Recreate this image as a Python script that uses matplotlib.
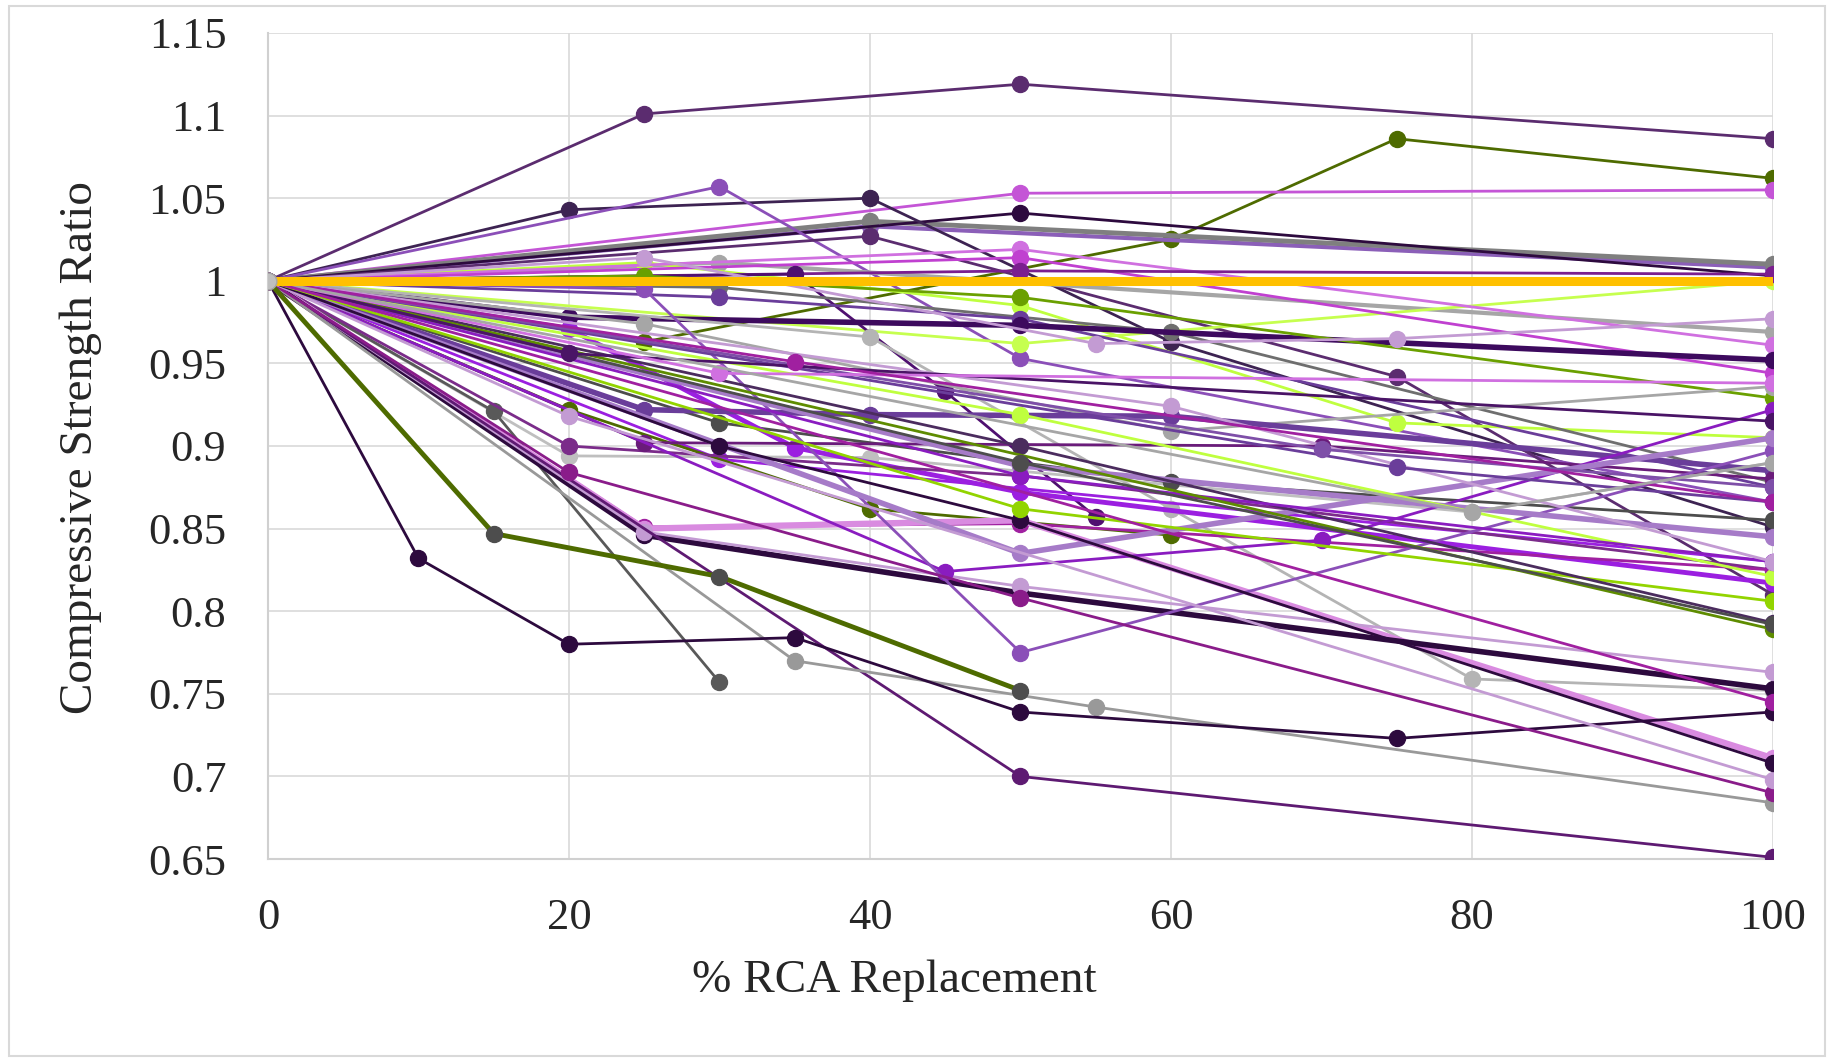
import matplotlib
matplotlib.use("Agg")
import matplotlib.pyplot as plt
from matplotlib.patches import Rectangle
from matplotlib.ticker import FuncFormatter, MultipleLocator

# each series: (x values, ratio values, colour, line width)
series = [
    ([0, 25, 50, 100], [1, 1.101, 1.119, 1.086], "#5B2C6F", 2),
    ([0, 25, 60, 75, 100], [1, 0.963, 1.025, 1.086, 1.062], "#4E6B00", 2),
    ([0, 50, 100], [1, 1.053, 1.055], "#C455D6", 2),
    ([0, 40, 100], [1, 1.033, 1.008], "#8B5FB8", 3),
    ([0, 40, 100], [1, 1.036, 1.010], "#7F7F7F", 3.5),
    ([0, 50, 100], [1, 1.041, 1.003], "#2D0A3E", 2),
    ([0, 20, 40, 60, 100], [1, 1.043, 1.050, 0.963, 0.851], "#3D2352", 2),
    ([0, 30, 50, 100], [1, 1.057, 0.953, 0.866], "#8B4FB8", 2),
    ([0, 40, 75, 100], [1, 1.027, 0.942, 0.810], "#5B2C6F", 2),
    ([0, 30, 100], [1, 1.011, 0.969], "#A6A6A6", 3),
    ([0, 25, 50, 75, 100], [1, 1.011, 0.985, 0.914, 0.905], "#BFFF3F", 2),
    ([0, 50, 100], [1, 0.962, 1.0], "#C6FF4F", 2),
    ([0, 50, 100], [1, 1.019, 0.961], "#D070E0", 2),
    ([0, 50, 100], [1, 1.014, 0.944], "#C040D0", 2),
    ([0, 50, 100], [1, 1.006, 1.004], "#7B1F8F", 2),
    ([0, 35, 45, 55], [1, 1.004, 0.933, 0.857], "#4F1070", 2),
    ([0, 30, 60, 100], [1, 0.996, 0.969, 0.878], "#6E6E6E", 2),
    ([0, 30, 50, 100], [1, 0.990, 0.977, 0.875], "#6A3D9A", 2),
    ([0, 20, 50, 100], [1, 0.978, 0.973, 0.952], "#3D0A5E", 4),
    ([0, 25, 50, 100], [1, 1.003, 0.990, 0.929], "#6AA000", 2),
    ([0, 25, 55, 75, 100], [1, 1.014, 0.962, 0.965, 0.977], "#C39BD3", 2),
    ([0, 40, 60, 80, 100], [1, 0.966, 0.862, 0.759, 0.752], "#B4B4B4", 2),
    ([0, 20, 40, 80, 100], [1, 0.894, 0.893, 0.860, 0.890], "#BFBFBF", 2),
    ([0, 25, 60, 100], [1, 0.974, 0.909, 0.936], "#A6A6A6", 2),
    ([0, 15, 30], [1, 0.921, 0.757], "#595959", 2),
    ([0, 30, 60, 100], [1, 0.914, 0.878, 0.855], "#4D4D4D", 2),
    ([0, 20, 35, 50, 100], [1, 0.971, 0.899, 0.872, 0.817], "#9B1FE0", 3.5),
    ([0, 30, 100], [1, 0.892, 0.830], "#9B1FE0", 2),
    ([0, 20, 40, 60], [1, 0.922, 0.862, 0.846], "#4E6B00", 2),
    ([0, 25, 40, 60, 100], [1, 0.922, 0.919, 0.918, 0.885], "#6A3D9A", 4),
    ([0, 20, 50, 100], [1, 0.900, 0.882, 0.825], "#7B2C8A", 2),
    ([0, 25, 70, 100], [1, 0.902, 0.900, 0.880], "#6A1C7A", 2),
    ([0, 25, 50, 100], [1, 0.851, 0.853, 0.825], "#A020A0", 2),
    ([0, 25, 50, 100], [1, 0.850, 0.855, 0.711], "#D98BE0", 4.5),
    ([0, 25, 50, 100], [1, 0.846, 0.811, 0.753], "#2D0A3E", 4),
    ([0, 25, 50, 100], [1, 0.848, 0.815, 0.763], "#C39BD3", 2),
    ([0, 45, 70, 100], [1, 0.824, 0.843, 0.922], "#8A1CC0", 2),
    ([0, 25, 50, 100], [1, 0.995, 0.775, 0.897], "#8B4FB8", 2),
    ([0, 50, 100], [1, 0.835, 0.905], "#A67BC8", 4),
    ([0, 50, 100], [1, 0.888, 0.845], "#A67BC8", 4),
    ([0, 50, 100], [1, 0.700, 0.651], "#5E1A72", 2),
    ([0, 35, 55, 100], [1, 0.770, 0.742, 0.684], "#999999", 2),
    ([0, 10, 20, 35, 50, 75, 100], [1, 0.832, 0.780, 0.784, 0.739, 0.723, 0.739], "#2D0A3E", 2),
    ([0, 20, 50, 100], [1, 0.884, 0.808, 0.690], "#8A1C8A", 2),
    ([0, 20, 100], [1, 0.918, 0.698], "#C39BD3", 2),
    ([0, 30, 50, 100], [1, 0.900, 0.855, 0.708], "#2D0A3E", 2),
    ([0, 50, 100], [1, 0.862, 0.806], "#92D400", 2),
    ([0, 50, 100], [1, 0.919, 0.821], "#BFFF3F", 2),
    ([0, 50, 100], [1, 0.900, 0.793], "#4B2C5E", 2),
    ([0, 50, 100], [1, 0.882, 0.830], "#8A1CC0", 2),
    ([0, 60, 100], [1, 0.924, 0.830], "#C39BD3", 2),
    ([0, 75, 100], [1, 0.887, 0.866], "#6A3D9A", 2),
    ([0, 70, 100], [1, 0.898, 0.875], "#7E4FA8", 2),
    ([0, 100], [1, 0.789], "#5E8C00", 2),
    ([0, 50, 100], [1, 0.890, 0.792], "#4D4D4D", 2),
    ([0, 20, 100], [1, 0.956, 0.915], "#4A1466", 2),
    ([0, 30, 100], [1, 0.944, 0.938], "#D070E0", 2),
    ([0, 35, 100], [1, 0.951, 0.866], "#A020A0", 2),
    ([0, 80, 100], [1, 0.860, 0.890], "#A6A6A6", 2),
    ([0, 100], [1, 0.745], "#A020A0", 2),
]

# olive line with dark grey markers
olive_x = [0, 15, 30, 50]
olive_y = [1, 0.847, 0.821, 0.752]

# reference line at ratio 1
ref_x = [0, 100]
ref_y = [1, 1]

x_ticks = [0, 20, 40, 60, 80, 100]

plt.rcParams["font.family"] = ["Liberation Serif", "DejaVu Serif"]

fig = plt.figure(figsize=(18.29, 10.60), dpi=100)
ax = fig.add_axes([0.1465, 0.1896, 0.8229, 0.7793])

for xs, ys, col, lw in series:
    ax.plot(xs, ys, color=col, lw=lw, marker="o", ms=11.5, mec=col, mfc=col, zorder=3)

ax.plot(olive_x, olive_y, color="#4E6B00", lw=3.5, marker="o", ms=11.5,
        mfc="#4D4D4D", mec="#4D4D4D", zorder=3)

ax.plot(ref_x, ref_y, color="#FFC000", lw=6.5, zorder=5, marker="o", markevery=[0],
        ms=12, mfc="#BFBFBF", mec="#A6A6A6")

ax.set_xlim(0, 100)
ax.set_ylim(0.65, 1.15)
ax.set_xticks(x_ticks)
ax.yaxis.set_major_locator(MultipleLocator(0.05))
ax.yaxis.set_major_formatter(FuncFormatter(lambda v, p: f"{round(v, 2):g}"))
ax.grid(True, color="#D9D9D9", lw=1.2, zorder=0)
ax.set_axisbelow(True)
ax.tick_params(length=0, labelsize=32, colors="#262626")
ax.tick_params(axis="y", pad=30)
ax.tick_params(axis="x", pad=28)
for s in ["top", "right"]:
    ax.spines[s].set_visible(False)
for s in ["left", "bottom"]:
    ax.spines[s].set_color("#D0D0D0")
    ax.spines[s].set_linewidth(1.5)

fig.text(0.489, 0.075, "% RCA Replacement", fontsize=34, color="#262626",
         ha="center", va="center")
fig.text(0.044, 0.578, "Compressive Strength Ratio", fontsize=34, color="#262626",
         ha="center", va="center", rotation=90)

fig.patches.append(Rectangle((0.005, 0.004), 0.993, 0.99, transform=fig.transFigure,
                             fill=False, edgecolor="#D9D9D9", lw=1.5))

fig.savefig("out.png", dpi=100)
